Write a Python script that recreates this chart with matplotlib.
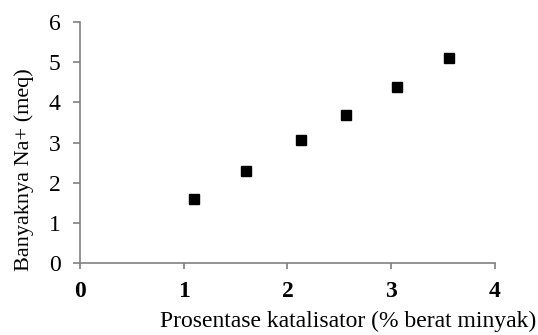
import matplotlib.pyplot as plt

plt.rcParams['font.family'] = ['Liberation Serif', 'DejaVu Serif']

# data
katalisator = [1.1, 1.6, 2.13, 2.56, 3.06, 3.56]
na_meq = [1.60, 2.30, 3.07, 3.68, 4.39, 5.10]
x_ticks = [0, 1, 2, 3, 4]
y_ticks = [0, 1, 2, 3, 4, 5, 6]

fig = plt.figure(figsize=(5.38, 3.35), dpi=100)
ax = fig.add_axes([0.1487, 0.2149, 0.7713, 0.7194])

ax.plot(katalisator, na_meq, linestyle='none', marker='s', markersize=7.5,
        color='black')

ax.set_xlim(0, 4)
ax.set_ylim(0, 6)
ax.set_xticks(x_ticks)
ax.set_yticks(y_ticks)
ax.set_xticklabels([str(v) for v in x_ticks], fontweight='bold', fontsize=17)
ax.set_yticklabels([str(v) for v in y_ticks], fontsize=17)

for side in ['top', 'right']:
    ax.spines[side].set_visible(False)
for side in ['left', 'bottom']:
    ax.spines[side].set_color('#808080')
    ax.spines[side].set_linewidth(1.2)
ax.tick_params(axis='both', colors='#808080', labelcolor='black', width=1.2)
ax.tick_params(axis='x', length=4, pad=9)
ax.tick_params(axis='y', length=5, pad=9)

fig.text(0.996, 0.042, 'Prosentase katalisator (% berat minyak)', ha='right',
         va='center', fontsize=17)
fig.text(0.045, 0.4925, 'Banyaknya Na+ (meq)', ha='center', va='center',
         rotation=90, fontsize=16)

fig.savefig('out.png', dpi=100)
